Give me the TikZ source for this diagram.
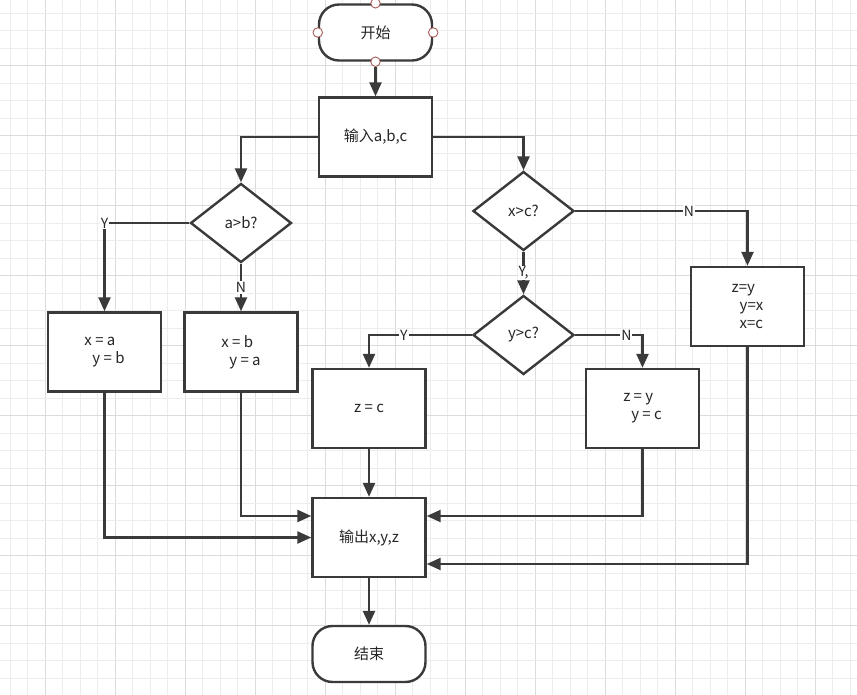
\documentclass[tikz,border=0pt]{standalone}
\usepackage{fontspec}
\setmainfont{Noto Sans CJK SC}
\usetikzlibrary{arrows.meta,shapes.geometric}
\definecolor{ln}{HTML}{3A3A3A}
\definecolor{pt}{HTML}{A85C5C}
\begin{document}
\begin{tikzpicture}[x=1pt,y=-1pt,
  every node/.style={font=\fontsize{15}{18}\selectfont, text=black!85},
  box/.style={draw=ln, line width=2.4pt, fill=white, minimum width=113pt, minimum height=79pt, inner sep=0pt},
  term/.style={draw=ln, line width=2.4pt, fill=white, rounded corners=20pt, minimum width=113pt, minimum height=56pt, inner sep=0pt},
  dec/.style={draw=ln, line width=2.4pt, fill=white, diamond, aspect=1.28, minimum width=101pt, minimum height=79pt, inner sep=0pt},
  flow/.style={draw=ln, line width=2.4pt, -{Triangle[length=14pt,width=12pt]}},
  lbl/.style={fill=white, inner sep=1pt, font=\fontsize{14}{16}\selectfont},
  cpt/.style={circle, draw=pt, fill=white, line width=0.9pt, minimum size=9.5pt, inner sep=0pt}
]
\useasboundingbox (0,0) rectangle (857,695);
\fill[white] (0,0) rectangle (857,695);
% grid
\foreach \k in {0,...,48} {
  \pgfmathsetmacro\gx{10+17.5*\k}
  \pgfmathtruncatemacro\m{mod(\k,4)}
  \ifnum\m=2 \draw[black!14,line width=0.8pt] (\gx,0) -- (\gx,695);
  \else \draw[black!7,line width=0.8pt] (\gx,0) -- (\gx,695); \fi
}
\foreach \k in {0,...,39} {
  \pgfmathsetmacro\gy{13+17.5*\k}
  \pgfmathtruncatemacro\m{mod(\k,4)}
  \ifnum\m=3 \draw[black!14,line width=0.8pt] (0,\gy) -- (857,\gy);
  \else \draw[black!7,line width=0.8pt] (0,\gy) -- (857,\gy); \fi
}
% nodes
\node[term] (start) at (375.5,32.5) {开始};
\node[box] (inp) at (375.5,137) {输入a,b,c};
\node[dec] (ab) at (241,223) {a>b?};
\node[dec] (xc) at (523.5,211) {x>c?};
\node[box, align=left] (xa) at (104.5,352) {x = a\\\hspace*{8pt}y = b};
\node[box, align=left] (xb) at (241,352) {x = b\\\hspace*{8pt}y = a};
\node[box, align=left] (zyx) at (747.5,306.5) {z=y\\\hspace*{8pt}y=x\\\hspace*{8pt}x=c};
\node[dec] (yc) at (523.5,335) {y>c?};
\node[box] (zc) at (369,408.5) {z = c};
\node[box, align=left] (zyc) at (642.5,408.5) {z = y\\\hspace*{8pt}y = c};
\node[box] (out) at (369,537.5) {输出x,y,z};
\node[term] (fin) at (369,654) {结束};
% connection points on start
\node[cpt] (p1) at (start.north) {};
\node[cpt] (p2) at (start.south) {};
\node[cpt] (p3) at (start.west) {};
\node[cpt] (p4) at (start.east) {};
% connectors
\draw[flow] (p2) -- (inp);
\draw[flow] (inp.west) -| (ab.north);
\draw[flow] (inp.east) -| (xc.north);
\draw[flow] (ab.west) -| node[lbl, pos=0.5] {Y} (xa.north);
\draw[flow] (ab.south) -- node[lbl, pos=0.5] {N} (xb.north);
\draw[flow] (xc.east) -| node[lbl, pos=0.33] {N} (zyx.north);
\draw[flow] (xc.south) -- node[lbl, pos=0.5] {Y,} (yc.north);
\draw[flow] (yc.west) -| node[lbl, pos=0.33] {Y} (zc.north);
\draw[flow] (yc.east) -| node[lbl, pos=0.38] {N} (zyc.north);
\draw[flow] (zc.south) -- (out.north);
\draw[flow] (xa.south) |- (out.west);
\draw[flow] (xb.south) |- ([yshift=21.5pt]out.west);
\draw[flow] (zyc.south) |- ([yshift=21.5pt]out.east);
\draw[flow] (zyx.south) |- ([yshift=-26.5pt]out.east);
\draw[flow] (out.south) -- (fin.north);
\end{tikzpicture}
\end{document}
